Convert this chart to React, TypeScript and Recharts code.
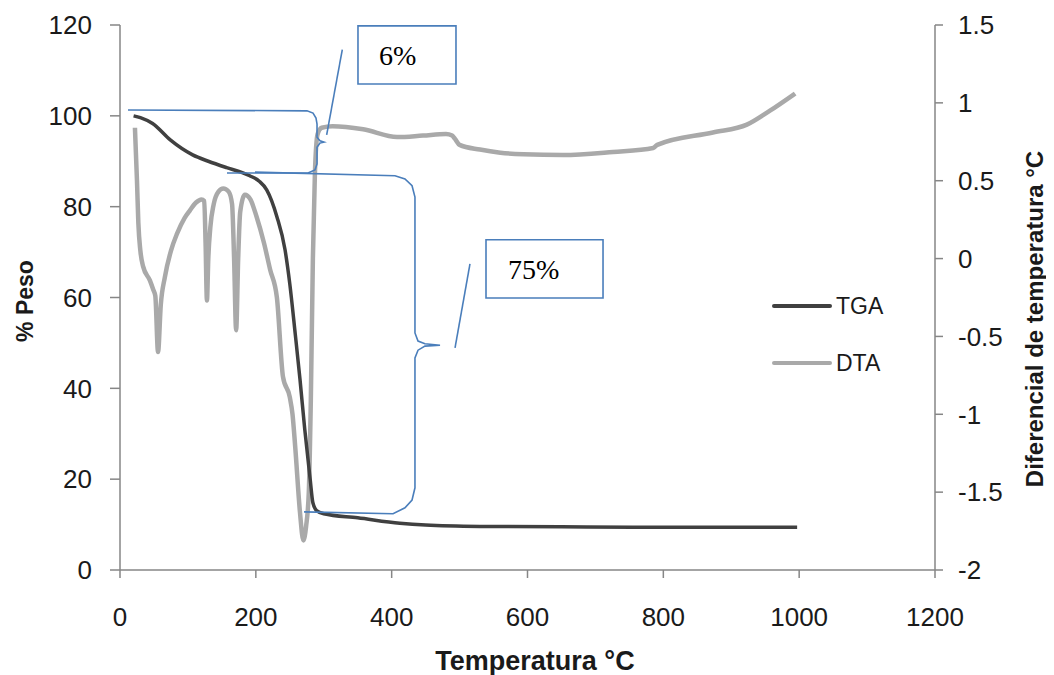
import React from 'react';
import { LineChart, Line, XAxis, YAxis, ReferenceArea, Legend } from 'recharts';

// ---- axis ticks ----
const tempTicks = [0, 200, 400, 600, 800, 1000, 1200];
const weightTicks = [0, 20, 40, 60, 80, 100, 120];
const diffTicks = [-2, -1.5, -1, -0.5, 0, 0.5, 1, 1.5];

// ---- series names ----
const seriesNames = ['TGA', 'DTA'];

// ---- TGA: temperature (°C) vs % weight ----
const tgaTemp = [20, 30, 48, 74, 107, 130, 157, 180, 191, 205, 216, 231, 243, 250, 258, 265, 272, 280, 284, 290, 300, 350, 412, 450, 530, 650, 755, 900, 997];
const tgaWeight = [100, 99.6, 98.3, 94.7, 91.4, 90.0, 88.6, 87.5, 86.8, 85.6, 83.7, 77.8, 70.5, 63, 52, 42, 31, 20, 14.8, 13, 12.4, 11.5, 10.3, 9.9, 9.6, 9.5, 9.4, 9.4, 9.4];

// ---- DTA: temperature (°C) vs temperature differential ----
const dtaTemp = [22, 25, 27, 30, 34, 44, 49, 52, 56, 60, 66, 75, 84, 95, 103, 112, 120, 124, 126, 128, 130, 133, 138, 145, 152, 160, 165, 168, 171, 174, 177, 184, 192, 201, 212, 221, 231, 240, 250, 254, 258, 265, 270, 274, 278, 281, 284, 287, 291, 297, 313, 358, 408, 446, 480, 489, 493, 500, 530, 560, 594, 652, 726, 785, 791, 873, 923, 957, 994];
const dtaDiff = [0.84, 0.5, 0.23, 0.05, -0.05, -0.14, -0.2, -0.24, -0.6, -0.3, -0.12, 0.05, 0.16, 0.26, 0.31, 0.36, 0.38, 0.37, 0.1, -0.27, 0.0, 0.2, 0.35, 0.43, 0.45, 0.43, 0.35, 0.0, -0.46, 0.0, 0.3, 0.41, 0.38, 0.27, 0.1, -0.07, -0.25, -0.76, -0.89, -1.0, -1.21, -1.63, -1.81, -1.72, -1.5, -0.9, 0.0, 0.55, 0.8, 0.84, 0.85, 0.83, 0.78, 0.79, 0.8, 0.79, 0.77, 0.73, 0.70, 0.68, 0.67, 0.665, 0.685, 0.71, 0.73, 0.81, 0.86, 0.95, 1.06];

// ---- annotations (in data units: temperature, % weight) ----
const brace6Temp = [11.8, 275.3, 284.2, 288.6, 290.1, 290.1, 294.5, 300.4, 294.5, 290.1, 290.1, 287.1, 276.8, 157.5];
const brace6Weight = [101.3, 101.1, 100.6, 99.5, 98.2, 95.3, 94.5, 94.2, 94.0, 93.1, 89.4, 88.1, 87.4, 87.4];
const brace75Temp = [198.8, 404.9, 419.6, 430, 434.3, 434.3, 438.8, 449, 471.2, 449, 438.8, 434.3, 434.3, 430, 419.6, 402, 271];
const brace75Weight = [87.6, 86.8, 86.1, 84.6, 82.1, 52.2, 50.4, 49.8, 49.5, 49.3, 48.4, 46.7, 18.1, 15.4, 13.7, 12.4, 12.8];
const leader6Temp = [327.3, 304.3];
const leader6Weight = [114.6, 95.8];
const leader75Temp = [515.3, 493.3];
const leader75Weight = [67.4, 48.9];
const box6Temp = [350.4, 494.7];
const box6Weight = [107.0, 119.8];
const box75Temp = [538.9, 711.2];
const box75Weight = [59.9, 72.7];
const boxLabels = ['6%', '75%'];

const zip = (xs: number[], ys: number[]) => xs.map((t, i) => ({ t, v: ys[i] }));

const tgaData = zip(tgaTemp, tgaWeight);
const dtaData = zip(dtaTemp, dtaDiff);
const brace6Data = zip(brace6Temp, brace6Weight);
const brace75Data = zip(brace75Temp, brace75Weight);
const leader6Data = zip(leader6Temp, leader6Weight);
const leader75Data = zip(leader75Temp, leader75Weight);

const TGA_COLOR = '#404040';
const DTA_COLOR = '#a9a9a9';
const AXIS_COLOR = '#868686';
const BLUE = '#4a7ebb';
const TEXT = '#1a1a1a';
const FONT = '"Liberation Sans", Arial, sans-serif';

const colors: Record<string, string> = { TGA: TGA_COLOR, DTA: DTA_COLOR };

const renderLegend = () => (
  <div style={{ fontFamily: FONT }}>
    {seriesNames.map((name) => (
      <div key={name} style={{ display: 'flex', alignItems: 'center', height: 40, marginBottom: 17 }}>
        <svg width={60} height={8} style={{ display: 'block' }}>
          <line x1={2} y1={4} x2={58} y2={4} stroke={colors[name]} strokeWidth={4} strokeLinecap="round" />
        </svg>
        <span style={{ marginLeft: 4, fontSize: 23, color: TEXT }}>{name}</span>
      </div>
    ))}
  </div>
);

export default function App() {
  const W = 1038;
  const H = 667;
  const tickStyle = { fill: TEXT, fontSize: 26, fontFamily: FONT };
  const axisLine = { stroke: AXIS_COLOR, strokeWidth: 1.5 };
  return (
    <div style={{ position: 'relative', width: W, height: H, fontFamily: FONT }}>
      <LineChart width={W} height={H} margin={{ top: 17, right: 51, left: 52, bottom: 65 }}>
        <XAxis
          dataKey="t"
          type="number"
          domain={[0, 1200]}
          ticks={tempTicks}
          interval={0}
          height={40}
          tickSize={8}
          tickMargin={30}
          axisLine={axisLine}
          tickLine={axisLine}
          tick={tickStyle}
        />
        <YAxis
          yAxisId="w"
          type="number"
          domain={[0, 120]}
          ticks={weightTicks}
          interval={0}
          width={60}
          tickSize={10}
          tickMargin={18}
          axisLine={axisLine}
          tickLine={axisLine}
          tick={tickStyle}
        />
        <YAxis
          yAxisId="d"
          orientation="right"
          type="number"
          domain={[-2, 1.5]}
          ticks={diffTicks}
          interval={0}
          width={60}
          tickSize={8}
          tickMargin={15}
          axisLine={axisLine}
          tickLine={axisLine}
          tick={tickStyle}
        />
        <Legend
          layout="vertical"
          align="center"
          verticalAlign="middle"
          wrapperStyle={{ left: 764, top: 278, width: 150 }}
          content={renderLegend}
        />
        <Line
          yAxisId="d"
          data={dtaData}
          dataKey="v"
          name="DTA"
          type="monotone"
          stroke={DTA_COLOR}
          strokeWidth={4.5}
          dot={false}
          activeDot={false}
          isAnimationActive={false}
        />
        <Line
          yAxisId="w"
          data={tgaData}
          dataKey="v"
          name="TGA"
          type="monotone"
          stroke={TGA_COLOR}
          strokeWidth={3.5}
          dot={false}
          activeDot={false}
          isAnimationActive={false}
        />
        <Line yAxisId="w" data={brace6Data} dataKey="v" name="b6" legendType="none" type="linear" stroke={BLUE} strokeWidth={1.6} dot={false} activeDot={false} isAnimationActive={false} />
        <Line yAxisId="w" data={brace75Data} dataKey="v" name="b75" legendType="none" type="linear" stroke={BLUE} strokeWidth={1.6} dot={false} activeDot={false} isAnimationActive={false} />
        <Line yAxisId="w" data={leader6Data} dataKey="v" name="l6" legendType="none" type="linear" stroke={BLUE} strokeWidth={1.6} dot={false} activeDot={false} isAnimationActive={false} />
        <Line yAxisId="w" data={leader75Data} dataKey="v" name="l75" legendType="none" type="linear" stroke={BLUE} strokeWidth={1.6} dot={false} activeDot={false} isAnimationActive={false} />
        <ReferenceArea
          yAxisId="w"
          x1={box6Temp[0]}
          x2={box6Temp[1]}
          y1={box6Weight[0]}
          y2={box6Weight[1]}
          fill="#ffffff"
          fillOpacity={1}
          stroke={BLUE}
          strokeWidth={1.6}
          label={{ value: boxLabels[0], position: 'insideLeft', offset: 21, fontSize: 28, fontFamily: '"Liberation Serif", "Times New Roman", serif', fill: '#000' }}
        />
        <ReferenceArea
          yAxisId="w"
          x1={box75Temp[0]}
          x2={box75Temp[1]}
          y1={box75Weight[0]}
          y2={box75Weight[1]}
          fill="#ffffff"
          fillOpacity={1}
          stroke={BLUE}
          strokeWidth={1.6}
          label={{ value: boxLabels[1], position: 'insideLeft', offset: 22, fontSize: 28, fontFamily: '"Liberation Serif", "Times New Roman", serif', fill: '#000' }}
        />
      </LineChart>
      <svg
        width={W}
        height={H}
        style={{ position: 'absolute', left: 0, top: 0, pointerEvents: 'none', overflow: 'visible' }}
      >
        <text x={527} y={662} textAnchor="middle" fontSize={27} fontWeight="bold" fill={TEXT} fontFamily={FONT}>
          Temperatura °C
        </text>
        <text x={25} y={293} textAnchor="middle" fontSize={23} fontWeight="bold" fill={TEXT} fontFamily={FONT} transform="rotate(-90 25 293)">
          % Peso
        </text>
        <text x={1035} y={311} textAnchor="middle" fontSize={24} fontWeight="bold" fill={TEXT} fontFamily={FONT} transform="rotate(-90 1035 311)">
          Diferencial de temperatura °C
        </text>
      </svg>
    </div>
  );
}
